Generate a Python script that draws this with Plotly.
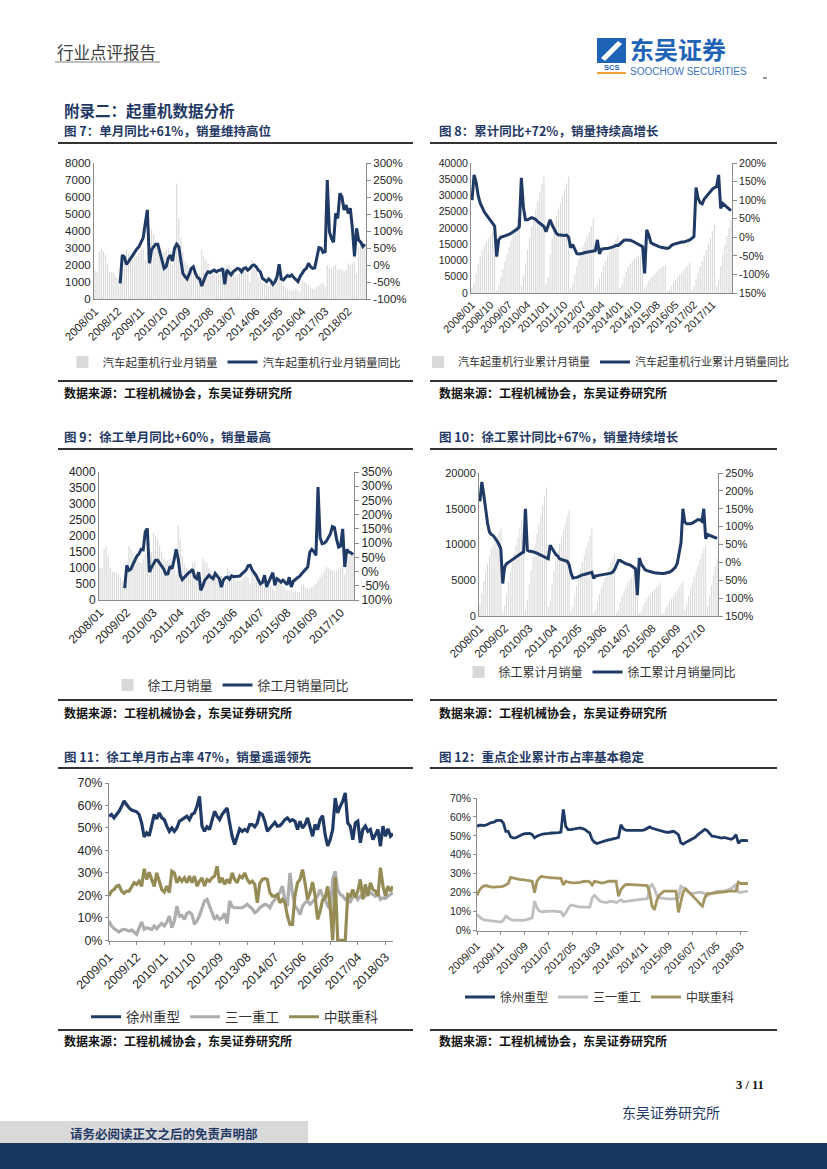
import plotly.graph_objects as go

W, H = 827, 1169


def px(x):
    return x / W


def py(y):
    return 1 - y / H


def month_range(y0, m0, y1, m1, skip=()):
    out = []
    y, m = y0, m0
    while (y, m) <= (y1, m1):
        s = f"{y}/{m:02d}"
        if s not in skip:
            out.append(s)
        m += 1
        if m > 12:
            y, m = y + 1, 1
    return out


# ---------------- categories ----------------
m7 = month_range(2008, 1, 2018, 10)
m8 = month_range(2008, 1, 2018, 8, skip=("2015/01",))
m9 = month_range(2008, 1, 2018, 4)
m10 = month_range(2008, 1, 2018, 6)
m11 = month_range(2009, 1, 2018, 6)
m12 = month_range(2009, 1, 2018, 6)

ticks7 = m7[0:122:11]
ticks8 = m8[0:118:9]
ticks9 = m9[0:118:13]
ticks10 = m10[0:118:13]
ticks11 = m11[0:111:11]
ticks12 = m12[0:111:10]

# ---------------- chart 7: truck crane monthly sales & YoY ----------------
c7_sales = [1650, 1600, 2800, 2950, 2800, 2600, 2100, 1600, 1600, 1550, 1300, 1200,
            1000, 1800, 2600, 2900, 2700, 2500, 2300, 2400, 2500, 2700, 2900, 3000,
            2300, 2800, 4200, 4100, 3800, 3400, 3000, 2700, 2600, 2800, 2900, 3000,
            2800, 2000, 2800, 6800, 4800, 3600, 2800, 2200, 2000, 1900, 1800, 1700,
            1500, 1400, 1500, 2900, 2500, 2300, 2100, 1700, 1500, 1500, 1400, 1500,
            1500, 1300, 1200, 2000, 2000, 1800, 1500, 1300, 1400, 1500, 1500, 1700,
            1700, 1500, 1000, 2300, 1900, 1700, 1300, 1100, 900, 900, 800, 800,
            900, 800, 700, 1400, 1200, 1100, 800, 700, 600, 500, 500, 500,
            600, 500, 400, 1100, 1000, 900, 800, 700, 600, 600, 700, 800,
            900, 900, 700, 2000, 1800, 1800, 1900, 2000, 1700, 1800, 1700, 1600,
            1700, 2100, 2000, 2100, 2200, 1500, 3000, 3300, 3200, 3000]
c7_yoy = [-54, 29, 24, 2, 10, 20, 29, 39, 47, 54,
          70, 80, 122, 162, 5, 44, 54, 61, 61, 39,
          10, -10, -5, 20, 29, 12, 49, 61, 54, 10,
          -25, -34, -41, -27, -10, -5, -25, -37, -41, -62,
          -47, -29, -20, -22, -18, -15, -20, -16, -15, -10,
          -57, -15, -22, -29, -20, -15, -10, -12, -20, -10,
          -8, -15, -10, -2, 0, -5, -15, -20, -39, -44,
          -49, -41, -47, -57, -49, -34, 2, -41, -44, -37,
          -31, -34, -29, -37, -44, -49, -34, -25, -15, -10,
          5, -5, -10, -8, 20, 51, 49, 37, 39, 250,
          98, 78, 67, 152, 137, 211, 201, 162, 176, 152,
          167, 108, 25, 108, 73, 67, 54, 61]

# ---------------- chart 8: cumulative sales & YoY ----------------
c8_cum = [1700, 3100, 6000, 9000, 11300, 13300, 14700, 15800, 16800, 17800, 18600, 19200,
          900, 2400, 4900, 7400, 9700, 11900, 14000, 16100, 18200, 20500, 22900, 25200,
          2400, 5000, 9200, 13300, 17000, 20300, 23100, 25700, 28300, 30900, 33500, 35800,
          2800, 4900, 11800, 16700, 20600, 23500, 25800, 27700, 29700, 31700, 33800, 35800,
          1400, 2900, 5800, 8200, 10500, 12600, 14300, 15800, 17300, 18800, 20600, 23000,
          1300, 2500, 4500, 6500, 8300, 9800, 11200, 12600, 14000, 15400, 16500, 17500,
          1500, 2500, 4800, 6600, 8000, 9000, 9800, 10500, 11000, 11400, 11700, 12000,
          1300, 2700, 3800, 4700, 5400, 6000, 6600, 7200, 7700, 8200, 8600,
          500, 1000, 2100, 3100, 4000, 4800, 5500, 6200, 6900, 7700, 8400, 9200,
          1000, 2100, 4200, 6200, 8000, 9800, 11500, 13200, 15000, 17000, 19000, 20800,
          2200, 4200, 8300, 11800, 14800, 17500, 20000, 22400]
c8_yoy = [100, 168, 148, 112, 92, 78, 68, 60, 52, 45,
          38, 30, -52, -7, 0, 2, 2, 4, 8, 11,
          14, 17, 22, 28, 160, 80, 47, 47, 50, 53,
          51, 48, 42, 38, 32, 29, 15, 30, 47, 33,
          20, 11, 7, 6, 6, 5, 6, 0, -28, -20,
          -32, -44, -45, -45, -43, -41, -40, -39, -39, -38,
          -36, -7, -45, -32, -30, -30, -30, -29, -26, -25,
          -22, -22, -18, -14, -8, -7, -7, -8, -10, -13,
          -17, -20, -22, -25, -97, 20, 6, -14, -18, -21,
          -23, -25, -27, -28, -30, -30, -28, -22, -19, -17,
          -15, -13, -13, -13, -12, -9, -7, -3, 2, 134,
          105, 93, 90, 103, 110, 118, 125, 130, 134, 136,
          168, 78, 91, 86, 80, 76, 72]

# ---------------- chart 9: XCMG monthly sales & YoY ----------------
c9_sales = [1000, 1000, 1600, 1700, 1400, 1000, 900, 880, 850, 800, 700, 600,
            550, 900, 1700, 1600, 1450, 1350, 1250, 1200, 1150, 1300, 1450, 1500,
            800, 1500, 2100, 2000, 1900, 1700, 1500, 1300, 1200, 1250, 1300, 1200,
            1300, 800, 2330, 1900, 1400, 1100, 1000, 900, 800, 1150, 1200, 900,
            700, 600, 1300, 1200, 1150, 1000, 900, 800, 750, 700, 700, 750,
            600, 500, 1000, 900, 800, 700, 650, 600, 600, 650, 700, 750,
            700, 500, 1000, 900, 800, 650, 550, 450, 400, 400, 400, 450,
            350, 300, 700, 600, 550, 400, 350, 300, 300, 300, 250, 300,
            250, 250, 450, 500, 400, 350, 350, 400, 450, 500, 600, 700,
            800, 900, 1050, 1000, 950, 920, 900, 900, 950, 1000, 1050, 800,
            1300, 1350, 1400, 1500]
c9_yoy = [-58, 22, 4, 8, 25, 40, 55, 63, 78, 76,
          140, 151, -2, 14, 30, 40, 40, 30, 20, 8,
          -9, -8, 18, 10, 40, 78, 45, -13, -28, -20,
          -13, -5, 0, 8, -19, -25, -2, -66, -50, -30,
          -22, -13, -20, -25, -7, -17, -25, -55, -30, -22,
          -19, -27, -15, -18, -17, -16, -16, -8, -3, 5,
          20, 22, 5, -5, -15, -30, -43, -38, -13, -54,
          -35, -20, -4, -48, -25, -30, -37, -30, -40, -46,
          -20, -54, -34, -27, -22, -17, -7, 0, 8, 16,
          68, 78, 70, 57, 297, 120, 98, 100, 106, 120,
          132, 158, 155, 115, 86, 90, 150, 16, 78, 69,
          66, 60]

# ---------------- chart 10: XCMG cumulative sales & YoY ----------------
c10_cum = [1500, 3100, 4900, 6300, 7300, 8500, 9400, 10000, 10700, 11200, 11700, 12200,
           600, 1500, 3200, 4800, 6200, 7500, 8700, 9900, 11000, 12200, 13500, 14800,
           800, 2300, 4400, 6400, 8300, 10000, 11500, 12800, 14100, 15400, 16700, 18000,
           1300, 2100, 4400, 6300, 7900, 9100, 10100, 11000, 11900, 12800, 13900, 14800,
           700, 1300, 2900, 4200, 5400, 6500, 7500, 8500, 9500, 10400, 11300, 12300,
           500, 900, 2000, 3000, 3900, 4700, 5400, 6100, 6800, 7400, 8000, 8600,
           500, 900, 1900, 2800, 3500, 4100, 4600, 5000, 5400, 5800, 6200, 6600,
           300, 600, 1300, 1900, 2400, 2800, 3100, 3400, 3700, 4000, 4300, 4600,
           250, 500, 1000, 1500, 2000, 2400, 2800, 3200, 3600, 4000, 4400, 4800,
           800, 1700, 2800, 3800, 4700, 5500, 6300, 7100, 7900, 8700, 9400, 10000,
           1300, 2700, 4300, 5700, 6900, 8000]
c10_yoy = [171, 225, 190, 145, 110, 85, 78, 75, 68, 60,
           50, 38, -59, -13, -4, 0, 3, 6, 10, 15,
           19, 22, 26, 29, 150, 34, 31, 31, 30, 28,
           26, 23, 20, 18, 15, 12, 10, 48, 40, 31,
           22, 18, 10, 8, 6, 4, 3, -6, -30, -44,
           -44, -42, -40, -37, -35, -34, -32, -30, -29, -28,
           -45, -38, -37, -36, -35, -34, -34, -33, -32, -30,
           -27, -20, -8, 5, 5, 3, -1, -4, -5, -7,
           -10, -14, -18, -92, 12, -4, -14, -20, -23, -25,
           -27, -28, -29, -30, -31, -31, -31, -31, -30, -28,
           -27, -24, -20, -14, -3, 25, 55, 150, 113, 108,
           107, 108, 110, 114, 118, 120, 119, 115, 150, 66,
           78, 76, 74, 72, 69, 67]

# ---------------- chart 11: monthly market share ----------------
c11_xcmg = [55.2, 56, 54.5, 56, 57.4, 59.6, 62, 60.4, 58.9, 58,
            57.4, 57.2, 56, 52.2, 46, 47.8, 46.5, 51, 56, 54,
            56.7, 54.5, 53.7, 50.8, 48.5, 50, 48.5, 50, 53, 53.7,
            54.5, 55.2, 53.7, 56, 56.7, 59.6, 64, 50.8, 48.5, 50.5,
            49.3, 53.7, 57.4, 55.2, 53.7, 56, 57.4, 58.9, 52.2, 46.3,
            42.6, 46.3, 49.6, 48.5, 49.3, 48.5, 51.5, 51.5, 50.5, 52.2,
            56.7, 56, 53, 48.5, 50, 51, 52.5, 50.8, 51, 52.2,
            53.7, 54.5, 53, 53.7, 53, 49.3, 53, 50, 51.5, 54.5,
            50.8, 46.3, 51.5, 49.3, 53.7, 55.5, 47, 42, 44.8, 49.3,
            63.3, 56.7, 59.6, 61.9, 65.6, 52.2, 50.8, 44.8, 52.2, 53,
            43.4, 49.3, 50.8, 48.5, 49.3, 44.8, 47, 49.3, 41.9, 50.8,
            46.3, 49.6, 46.3, 47.5]
c11_sany = [8.6, 6.4, 5.2, 4.5, 3.7, 4.6, 4.9, 4.6, 4.1, 4.6,
            3.8, 2.7, 5.5, 8.1, 4.9, 5.6, 5.2, 4.9, 6.4, 5.2,
            6.5, 7.5, 6.4, 8.1, 10.8, 5.6, 8.6, 15.2, 10.8, 11.1,
            9.3, 12, 12.5, 11.5, 7.1, 8.6, 11, 13.8, 17.5, 18.2,
            15.2, 12.3, 9.3, 10.8, 9.3, 10, 12, 7.5, 17.5, 15,
            14.5, 14.5, 14.5, 14.5, 15.2, 16, 15, 14, 12.3, 13,
            14.5, 15.2, 16, 15.6, 14.5, 16.7, 18.2, 19.7, 21.2, 24.1,
            18.2, 15.2, 30, 21, 15.2, 13.8, 11.5, 15.2, 16.7, 17.5,
            16, 17.2, 18.2, 19.7, 22.6, 19.7, 18.2, 15.2, 14, 27,
            30.8, 22.5, 20.4, 19.7, 18.2, 18.9, 16.7, 19.7, 20.4, 18.2,
            19.7, 20.2, 19.7, 21.9, 21.2, 20.4, 19.7, 21.2, 18.2, 18.9,
            18.6, 19.7, 20.4, 21.2]
c11_zoom = [19.7, 21.9, 22.6, 24.1, 24.4, 21.9, 20.9, 21.9, 21.9, 24.1,
            25.6, 24.9, 26.3, 24.1, 31.8, 27.1, 30.3, 27, 24, 30,
            26.3, 22.6, 21.5, 24.1, 21.2, 30.8, 30, 25.6, 27.8, 26.3,
            27.8, 25.6, 28.6, 25.6, 28.6, 24.1, 26.3, 27.8, 24.1, 27.1,
            26.3, 27.8, 28.6, 33, 25.6, 27.8, 24.9, 27.1, 25.3, 30,
            27.1, 25.6, 28.6, 27.8, 30, 27.1, 25.6, 26.3, 24.9, 16.7,
            25.3, 27.1, 27.4, 27.1, 21.2, 19.7, 19.7, 20.4, 16.7, 18.2,
            16.7, 10.8, 7.1, 7.1, 20, 25.6, 27.1, 31.5, 25.6, 18.2,
            21.2, 25.9, 19.7, 9.3, 13, 18, 19, 24, 15, 0,
            28, 0, 0, 0, 0, 20.4, 19.7, 22.6, 18.9, 21.9,
            27.1, 18.2, 24.9, 19.7, 25.6, 22.6, 21.9, 19.7, 32.3, 24.1,
            19.7, 24.1, 21.9, 24.1]

# ---------------- chart 12: cumulative market share ----------------
c12_xcmg = [55, 55.6, 55.7, 55.4, 55.9, 56.5, 57, 57.2, 58, 58.2,
            58.2, 56.8, 52.4, 52.4, 49.5, 48.9, 48.9, 49.5, 50.3, 50.8,
            51.2, 51.4, 51.3, 50.7, 48.9, 49.8, 50.5, 50.8, 51, 51,
            51.3, 51.5, 51.5, 51.5, 51.7, 52, 64, 55, 53.3, 53.3,
            53.5, 53.6, 53.8, 54.2, 53.8, 53.4, 52.4, 51.5, 48, 46.6,
            45.9, 46.4, 46.8, 47.1, 47.6, 47.9, 48.1, 48.4, 48.8, 49.2,
            55.9, 53.8, 53, 52.9, 52.9, 52.9, 52.9, 52.9, 52.9, 52.9,
            53.3, 54.2, 54.7, 54, 53.6, 53.3, 53, 52.6, 52.4, 51.9,
            51.9, 52.2, 52.4, 51.6, 50.5, 46.3, 45.6, 46.5, 47.1, 47.9,
            48.6, 49.2, 50.5, 51.6, 52.8, 53.4, 52.8, 51, 49.8, 49.7,
            49.4, 49, 48.8, 49.2, 48.9, 48.6, 48.2, 48.9, 50.7, 46,
            47.5, 47.6, 47.5, 47.5]
c12_sany = [8.4, 7.2, 6.2, 5.6, 5.3, 5.3, 5.1, 4.9, 4.6, 4.4,
            4.4, 5.4, 7.6, 6.7, 5.8, 5.4, 5.3, 5.3, 5.3, 5.3,
            5.5, 5.9, 6.2, 6.6, 15.5, 12, 10.3, 9.8, 10, 10.2,
            10.2, 10.2, 10.2, 10.2, 10.2, 9.8, 7.8, 9.2, 11.5, 13.4,
            13.2, 12.8, 12.6, 12.5, 12.4, 12.4, 12.2, 12.2, 17, 18.5,
            17.2, 15.8, 15.2, 15, 14.7, 15.2, 15.4, 15.2, 14.7, 15.5,
            16.2, 15.2, 15.4, 15.7, 15.8, 15.8, 16, 16.2, 16.4, 16.6,
            16.7, 16.7, 23, 24.3, 22, 18.3, 17.3, 17, 16.8, 16.7,
            16.7, 16.7, 16.7, 16.7, 17.2, 23.4, 22.6, 21.2, 20.3, 19.7,
            19.5, 19.8, 20.1, 20.2, 20, 19.4, 18.4, 19.2, 19.8, 20.2,
            20.7, 20.8, 20.8, 20.8, 21.2, 21.6, 22, 23.2, 24.2, 20.2,
            20.1, 20.4, 20.8, 20.8]
c12_zoom = [18.5, 21.3, 22.8, 23.5, 23.6, 23.1, 22.9, 22.9, 22.9, 23,
            23.1, 23.4, 24.3, 24.8, 28, 27.7, 27.3, 27.1, 26.9, 26.9,
            26.7, 26.6, 26.4, 26, 20, 26, 27.8, 28.6, 28.3, 28,
            27.8, 27.8, 27.8, 27.8, 27.8, 27.5, 24, 26, 25.5, 25.2,
            25.1, 25.1, 25.1, 25.4, 25.8, 26, 26, 25.6, 24, 26,
            25.8, 25.3, 25.1, 25.3, 25.7, 26, 26, 26, 26, 18,
            21.6, 23.2, 24.2, 24.3, 24.2, 24, 23.9, 23.8, 23.7, 23.7,
            23.7, 23.7, 19.9, 12.8, 11, 16, 18.7, 20, 20.8, 20.8,
            20.8, 20.8, 20.8, 20.8, 9.5, 15, 20.5, 22, 20.7, 19.9,
            18.1, 17, 15.5, 14, 12.8, 17.2, 19.5, 19.5, 19.5, 19.7,
            20, 20.1, 20, 20.2, 20.5, 20.8, 20.8, 20.8, 20.8, 25.5,
            24.8, 24.8, 24.8, 24.8]

# ---------------- styles ----------------
NAVY = "#1F3A64"
TITLE_NAVY = "#1F3864"
BAR = "#D9D9D9"
GRAY11 = "#ADADAD"
GOLD11 = "#958B55"
GRAY12 = "#BFBFBF"
GOLD12 = "#A39460"
AX = "#8C8C8C"
TXT = "#262626"
CJK = "Noto Sans CJK SC"
LAT = "Liberation Sans"

fig = go.Figure()

# chart 7
fig.add_trace(go.Bar(x=m7, y=c7_sales, xaxis="x", yaxis="y", marker_color=BAR,
                     marker_line_width=0, width=0.55, name="汽车起重机行业月销量", legend="legend"))
fig.add_trace(go.Scatter(x=m7[-len(c7_yoy):], y=c7_yoy, xaxis="x", yaxis="y2", mode="lines",
                         line=dict(color=NAVY, width=3), name="汽车起重机行业月销量同比", legend="legend"))
# chart 8
fig.add_trace(go.Bar(x=m8, y=c8_cum, xaxis="x2", yaxis="y3", marker_color=BAR,
                     marker_line_width=0, width=0.55, name="汽车起重机行业累计月销量", legend="legend2"))
fig.add_trace(go.Scatter(x=m8[-len(c8_yoy):], y=c8_yoy, xaxis="x2", yaxis="y4", mode="lines",
                         line=dict(color=NAVY, width=3), name="汽车起重机行业累计月销量同比", legend="legend2"))
# chart 9
fig.add_trace(go.Bar(x=m9, y=c9_sales, xaxis="x3", yaxis="y5", marker_color=BAR,
                     marker_line_width=0, width=0.55, name="徐工月销量", legend="legend3"))
fig.add_trace(go.Scatter(x=m9[-len(c9_yoy):], y=c9_yoy, xaxis="x3", yaxis="y6", mode="lines",
                         line=dict(color=NAVY, width=3), name="徐工月销量同比", legend="legend3"))
# chart 10
fig.add_trace(go.Bar(x=m10, y=c10_cum, xaxis="x4", yaxis="y7", marker_color=BAR,
                     marker_line_width=0, width=0.55, name="徐工累计月销量", legend="legend4"))
fig.add_trace(go.Scatter(x=m10[-len(c10_yoy):], y=c10_yoy, xaxis="x4", yaxis="y8", mode="lines",
                         line=dict(color=NAVY, width=3), name="徐工累计月销量同比", legend="legend4"))
# chart 11
for vals, col, nm in ((c11_xcmg, NAVY, "徐州重型"), (c11_sany, GRAY11, "三一重工"), (c11_zoom, GOLD11, "中联重科")):
    fig.add_trace(go.Scatter(x=m11, y=vals, xaxis="x5", yaxis="y9", mode="lines",
                             line=dict(color=col, width=3.2), name=nm, legend="legend5"))
# chart 12
for vals, col, nm in ((c12_xcmg, NAVY, "徐州重型"), (c12_sany, GRAY12, "三一重工"), (c12_zoom, GOLD12, "中联重科")):
    fig.add_trace(go.Scatter(x=m12, y=vals, xaxis="x6", yaxis="y10", mode="lines",
                             line=dict(color=col, width=2.8), name=nm, legend="legend6"))


def xcat(x0, x1, anchor, cats, tickvals, rng, fs, ticks=""):
    return dict(domain=[px(x0), px(x1)], anchor=anchor, type="category",
                categoryorder="array", categoryarray=cats, tickmode="array",
                tickvals=tickvals, ticktext=tickvals, tickangle=-45, range=rng,
                showline=True, linecolor=AX, linewidth=1, showgrid=False, zeroline=False,
                ticks=ticks, ticklen=3, tickcolor=AX, automargin=False,
                tickfont=dict(family=LAT, size=fs, color=TXT))


def yleft(y0, y1, anchor, rng, vals, text, fs, ticks=""):
    return dict(domain=[py(y1), py(y0)], anchor=anchor, range=rng, tickmode="array",
                tickvals=vals, ticktext=text, showline=True, linecolor=AX, linewidth=1,
                showgrid=False, zeroline=False, ticks=ticks, ticklen=3, tickcolor=AX,
                automargin=False, tickfont=dict(family=LAT, size=fs, color=TXT))


def yright(overlay, anchor, rng, vals, text, fs):
    return dict(overlaying=overlay, anchor=anchor, side="right", range=rng, tickmode="array",
                tickvals=vals, ticktext=text, showline=True, linecolor=AX, linewidth=1,
                showgrid=False, zeroline=False, ticks="outside", ticklen=4, tickcolor=AX,
                automargin=False, tickfont=dict(family=LAT, size=fs, color=TXT))


def pct(vals):
    return [f"{v}%" for v in vals]


r7 = list(range(-100, 301, 50))
r8 = list(range(-150, 201, 50))
r9 = list(range(-100, 351, 50))
r10 = list(range(-150, 251, 50))
t8 = pct(r8)
t8[0] = "150%"
t9 = pct(r9)
t9[0] = "100%"
t10 = ["150%", "100%", "50%"] + pct(r10[3:])

layout = dict(
    width=W, height=H, margin=dict(l=0, r=0, t=0, b=0, pad=0, autoexpand=False),
    paper_bgcolor="white", plot_bgcolor="rgba(0,0,0,0)", showlegend=True,
    xaxis=xcat(94, 366, "y", m7, ticks7, [-0.5, len(m7) - 0.5], 11.5),
    yaxis=yleft(163, 299, "x", [0, 8000], list(range(0, 8001, 1000)),
                [str(v) for v in range(0, 8001, 1000)], 11.5),
    yaxis2=yright("y", "x", [-100, 300], r7, pct(r7), 11.5),
    xaxis2=xcat(471, 732, "y3", m8, ticks8, [-0.5, len(m8) - 0.5], 11),
    yaxis3=yleft(163, 293, "x2", [0, 40000], list(range(0, 40001, 5000)),
                 [str(v) for v in range(0, 40001, 5000)], 10.5),
    yaxis4=yright("y3", "x2", [-150, 200], r8, t8, 10.5),
    xaxis3=xcat(99, 354, "y5", m9, ticks9, [-0.5, len(m9) - 0.5], 12),
    yaxis5=yleft(472, 600, "x3", [0, 4000], list(range(0, 4001, 500)),
                 [str(v) for v in range(0, 4001, 500)], 12),
    yaxis6=yright("y5", "x3", [-100, 350], r9, t9, 12),
    xaxis4=xcat(479, 718, "y7", m10, ticks10, [-0.5, len(m10) - 0.5], 11.5),
    yaxis7=yleft(473, 616, "x4", [0, 20000], list(range(0, 20001, 5000)),
                 [str(v) for v in range(0, 20001, 5000)], 11),
    yaxis8=yright("y7", "x4", [-150, 250], r10, t10, 11),
    xaxis5=xcat(109, 393, "y9", m11, ticks11, [0, len(m11) - 1], 12.5, ticks="outside"),
    yaxis9=yleft(783, 941, "x5", [-0.3, 70], list(range(0, 71, 10)), pct(range(0, 71, 10)), 12.5,
                 ticks="outside"),
    xaxis6=xcat(477, 748, "y10", m12, ticks12, [0, len(m12) - 1], 11, ticks="outside"),
    yaxis10=yleft(798, 931, "x6", [-0.3, 70], list(range(0, 71, 10)), pct(range(0, 71, 10)), 10.5,
                  ticks="outside"),
)


def leg(xc, yc, fs):
    return dict(x=px(xc), y=py(yc), xanchor="center", yanchor="middle", orientation="h",
                bgcolor="rgba(0,0,0,0)", itemwidth=30, traceorder="normal",
                font=dict(family=CJK, size=fs, color="#333333"))


layout["legend"] = leg(234, 362, 11.5)
layout["legend2"] = leg(606, 362, 11)
layout["legend3"] = leg(231, 685, 13)
layout["legend4"] = leg(600, 672, 12)
layout["legend5"] = leg(235, 1017, 13.5)
layout["legend6"] = leg(600, 997, 12)

fig.update_layout(**layout)

# ---------------- page furniture ----------------
ann = []


def text(x, y, s, size, color="#262626", bold=False, family=CJK, anchor="left"):
    ann.append(dict(x=px(x), y=py(y), xref="paper", yref="paper", text=s, showarrow=False,
                    xanchor=anchor, yanchor="middle",
                    font=dict(family=family, size=size, color=color,
                              weight="bold" if bold else "normal")))


text(55, 52, "行业点评报告", 16.5, color="#404040")
text(628, 48, "东吴证券", 24, color="#1E63B5", bold=True)
text(628, 71, "SOOCHOW SECURITIES", 10, color="#3A74C0", family=LAT)
text(611, 68, "SCS", 7.5, color="#1E63B5", bold=True, family=LAT, anchor="center")
text(62, 110, "附录二：起重机数据分析", 15.5, color=TITLE_NAVY, bold=True)

text(62, 131, "图 7：单月同比+61%，销量维持高位", 12.5, color=TITLE_NAVY, bold=True)
text(437, 131, "图 8：累计同比+72%，销量持续高增长", 12.5, color=TITLE_NAVY, bold=True)
text(62, 436, "图 9：徐工单月同比+60%，销量最高", 12.5, color=TITLE_NAVY, bold=True)
text(437, 436, "图 10：徐工累计同比+67%，销量持续增长", 12.5, color=TITLE_NAVY, bold=True)
text(62, 756, "图 11：徐工单月市占率 47%，销量遥遥领先", 12.5, color=TITLE_NAVY, bold=True)
text(437, 756, "图 12：重点企业累计市占率基本稳定", 12.5, color=TITLE_NAVY, bold=True)

for yy in (392, 712, 1040):
    for xx in (62, 437):
        text(xx, yy, "数据来源：工程机械协会，东吴证券研究所", 12, color="#111111", bold=True)

text(766, 1085, "3 / 11", 12.5, color="#111111", bold=True, family="Liberation Serif", anchor="right")
text(620, 1112, "东吴证券研究所", 14, color=TITLE_NAVY)
text(68, 1133, "请务必阅读正文之后的免责声明部", 12.5, color=TITLE_NAVY, bold=True)

shapes = []


def hline(x0, x1, y, w, color):
    shapes.append(dict(type="line", xref="paper", yref="paper", x0=px(x0), x1=px(x1),
                       y0=py(y), y1=py(y), line=dict(color=color, width=w)))


def rect(x0, y0, x1, y1, color):
    shapes.append(dict(type="rect", xref="paper", yref="paper", x0=px(x0), x1=px(x1),
                       y0=py(y1), y1=py(y0), fillcolor=color, line=dict(width=0), layer="below"))


hline(55, 160, 62, 1.2, "#808080")
for yy in (143, 381, 449, 700, 768, 1030):
    hline(58, 413, yy, 2, "#333333")
    hline(430, 777, yy, 2, "#333333")

# logo icon
rect(597, 38, 626, 63, "#1E63B5")
shapes.append(dict(type="path", xref="paper", yref="paper",
                   path=f"M {px(601)},{py(58)} L {px(618)},{py(41)} L {px(622)},{py(44)} L {px(605)},{py(61)} Z",
                   fillcolor="white", line=dict(width=0)))
hline(597, 626, 73, 2, "#F0A030")
hline(763, 767, 78, 1, "#333333")

# footer
rect(0, 1121, 308, 1143, "#D9D9D9")
rect(0, 1143, 827, 1169, "#17375E")

fig.update_layout(annotations=ann, shapes=shapes)

fig.write_html(
    "out.html",
    config={"displayModeBar": False, "staticPlot": True},
    post_script="document.body.style.margin='0';document.body.style.padding='0';"
                "document.documentElement.style.overflow='hidden';",
)
